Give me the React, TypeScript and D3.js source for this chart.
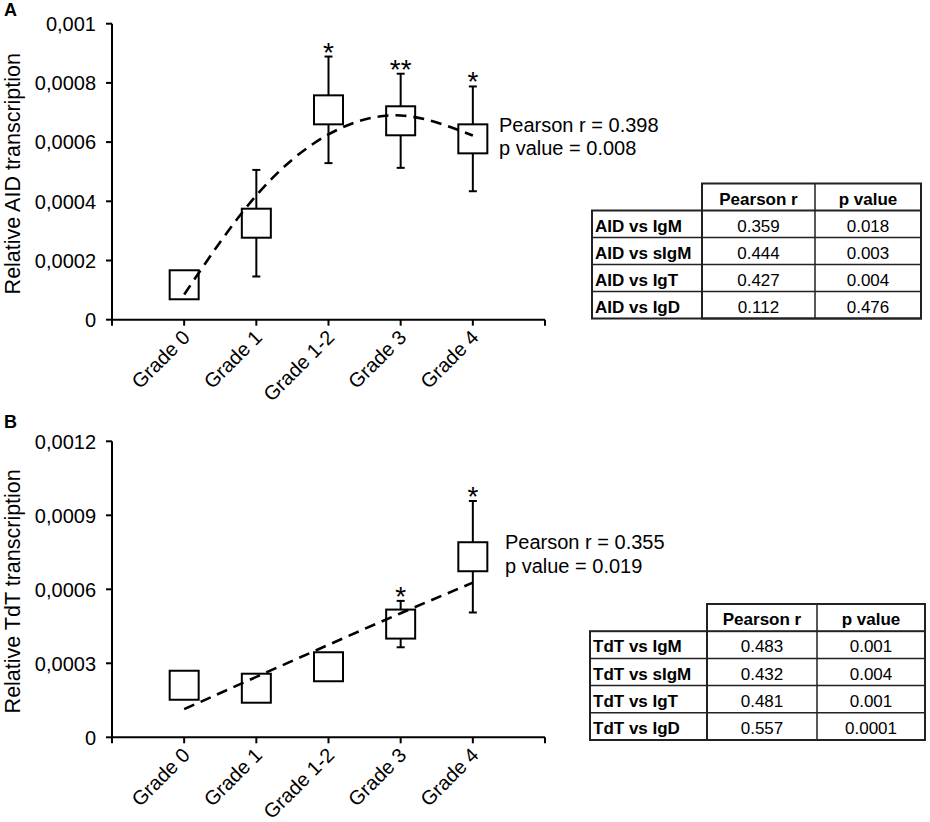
import * as d3 from "d3";

const FONT = "'Liberation Sans', Arial, Helvetica, sans-serif";

// x categories shared by both panels
const CATEGORIES = ["Grade 0", "Grade 1", "Grade 1-2", "Grade 3", "Grade 4"];
const TABLE_HEADERS = ["Pearson r", "p value"];

// Panel A: AID
const AID_MEAN = [0.000118, 0.000326, 0.000709, 0.000672, 0.000611];
const AID_ERR = [0, 0.00018, 0.00018, 0.000159, 0.000177];
const AID_TREND = [0.000085, 0.00042, 0.000626, 0.00069, 0.000622];
const AID_STARS = ["", "", "*", "**", "*"];
const AID_TICKS = [0, 0.0002, 0.0004, 0.0006, 0.0008, 0.001];
const AID_TICK_LABELS = ["0", "0,0002", "0,0004", "0,0006", "0,0008", "0,001"];
const AID_STATS = ["Pearson r = 0.398", "p value = 0.008"];
const AID_ROWS = ["AID vs IgM", "AID vs sIgM", "AID vs IgT", "AID vs IgD"];
const AID_R = ["0.359", "0.444", "0.427", "0.112"];
const AID_P = ["0.018", "0.003", "0.004", "0.476"];

// Panel B: TdT
const TDT_MEAN = [0.000211, 0.000199, 0.000286, 0.000459, 0.000732];
const TDT_ERR = [0, 0, 0, 0.000094, 0.000226];
const TDT_TREND = [0.000114, 0.000245, 0.000375, 0.000503, 0.000627];
const TDT_STARS = ["", "", "", "*", "*"];
const TDT_TICKS = [0, 0.0003, 0.0006, 0.0009, 0.0012];
const TDT_TICK_LABELS = ["0", "0,0003", "0,0006", "0,0009", "0,0012"];
const TDT_STATS = ["Pearson r = 0.355", "p value = 0.019"];
const TDT_ROWS = ["TdT vs IgM", "TdT vs sIgM", "TdT vs IgT", "TdT vs IgD"];
const TDT_R = ["0.483", "0.432", "0.481", "0.557"];
const TDT_P = ["0.001", "0.004", "0.001", "0.0001"];

const BOX = 29; // square marker size
const CAP = 8; // error bar cap width

type TableLayout = { left: number; c1: number; c2: number; right: number; top: number; rowH: number };

type PanelProps = {
  letter: string;
  letterY: number;
  yTitle: string;
  y0: number; // pixel of value 0
  y1: number; // pixel of max value
  ticks: number[];
  tickLabels: string[];
  means: number[];
  errs: number[];
  trend: number[];
  stars: string[];
  stats: string[];
  statsX: number;
  statsY: number;
  rows: string[];
  rs: string[];
  ps: string[];
  table: TableLayout;
};

const Panel = (p: PanelProps) => {
  const x = d3.scaleLinear().domain([0, CATEGORIES.length + 1]).range([112, 545]);
  const y = d3
    .scaleLinear()
    .domain([0, p.ticks[p.ticks.length - 1]])
    .range([p.y0, p.y1]);

  const line = d3
    .line<number>()
    .x((_, i) => x(i + 1))
    .y((d) => y(d))
    .curve(d3.curveNatural);

  const xTicks = d3.range(0, CATEGORIES.length + 2);
  const t = p.table;
  const nRows = p.rows.length;
  const bottom = t.top + t.rowH * (nRows + 1);

  return (
    <g>
      <text x={4} y={p.letterY} fontSize={18} fontWeight="bold">
        {p.letter}
      </text>

      {/* y axis */}
      <line x1={x(0)} x2={x(0)} y1={p.y1} y2={p.y0} stroke="#000" strokeWidth={2} />
      {p.ticks.map((v, i) => (
        <g key={v}>
          <line x1={x(0) - 6} x2={x(0)} y1={y(v)} y2={y(v)} stroke="#000" strokeWidth={2} />
          <text x={96} y={y(v)} dy="0.36em" textAnchor="end" fontSize={20}>
            {p.tickLabels[i]}
          </text>
        </g>
      ))}
      <text
        transform={`translate(20, ${(p.y0 + p.y1) / 2 + 2}) rotate(-90)`}
        textAnchor="middle"
        fontSize={21.5}
      >
        {p.yTitle}
      </text>

      {/* x axis */}
      <line x1={x(0)} x2={x(CATEGORIES.length + 1)} y1={p.y0} y2={p.y0} stroke="#000" strokeWidth={2} />
      {xTicks.map((i) => (
        <line key={i} x1={x(i)} x2={x(i)} y1={p.y0} y2={p.y0 + 6} stroke="#000" strokeWidth={2} />
      ))}
      {CATEGORIES.map((c, i) => (
        <text
          key={c}
          transform={`translate(${x(i + 1) + 7}, ${p.y0 + 19}) rotate(-45)`}
          textAnchor="end"
          fontSize={20}
        >
          {c}
        </text>
      ))}

      {/* error bars */}
      {p.means.map((m, i) =>
        p.errs[i] > 0 ? (
          <g key={i} stroke="#000" strokeWidth={2}>
            <line x1={x(i + 1)} x2={x(i + 1)} y1={y(m + p.errs[i])} y2={y(m - p.errs[i])} />
            <line x1={x(i + 1) - CAP / 2} x2={x(i + 1) + CAP / 2} y1={y(m + p.errs[i])} y2={y(m + p.errs[i])} />
            <line x1={x(i + 1) - CAP / 2} x2={x(i + 1) + CAP / 2} y1={y(m - p.errs[i])} y2={y(m - p.errs[i])} />
          </g>
        ) : null
      )}

      {/* square markers */}
      {p.means.map((m, i) => (
        <rect
          key={i}
          x={x(i + 1) - BOX / 2}
          y={y(m) - BOX / 2}
          width={BOX}
          height={BOX}
          fill="#fff"
          stroke="#000"
          strokeWidth={2}
        />
      ))}

      {/* significance */}
      {p.stars.map((s, i) =>
        s ? (
          <text
            key={i}
            x={x(i + 1)}
            y={y(p.means[i] + p.errs[i]) + 5}
            textAnchor="middle"
            fontSize={28}
          >
            {s}
          </text>
        ) : null
      )}

      {/* trend line */}
      <path
        d={line(p.trend) || undefined}
        fill="none"
        stroke="#000"
        strokeWidth={2.6}
        strokeDasharray="11,7"
      />

      {p.stats.map((s, i) => (
        <text key={s} x={p.statsX} y={p.statsY + i * 23.4} fontSize={20}>
          {s}
        </text>
      ))}

      {/* correlation table */}
      <g stroke="#222" fill="none">
        <rect x={t.c1} y={t.top} width={t.right - t.c1} height={bottom - t.top} strokeWidth={2} />
        <rect x={t.left} y={t.top + t.rowH} width={t.right - t.left} height={bottom - t.top - t.rowH} strokeWidth={2} />
        <line x1={t.c2} x2={t.c2} y1={t.top} y2={bottom} strokeWidth={1.5} />
        {d3.range(2, nRows + 1).map((r) => (
          <line key={r} x1={t.left} x2={t.right} y1={t.top + r * t.rowH} y2={t.top + r * t.rowH} strokeWidth={1.5} />
        ))}
      </g>
      {TABLE_HEADERS.map((h, j) => (
        <text
          key={h}
          x={j === 0 ? (t.c1 + t.c2) / 2 : (t.c2 + t.right) / 2}
          y={t.top + t.rowH / 2 + 7.5}
          textAnchor="middle"
          fontSize={17}
          fontWeight="bold"
        >
          {h}
        </text>
      ))}
      {p.rows.map((r, i) => {
        const cy = t.top + (i + 1.5) * t.rowH + 7.5;
        return (
          <g key={r} fontSize={17}>
            <text x={t.left + 3} y={cy} fontWeight="bold">
              {r}
            </text>
            <text x={(t.c1 + t.c2) / 2} y={cy} textAnchor="middle">
              {p.rs[i]}
            </text>
            <text x={(t.c2 + t.right) / 2} y={cy} textAnchor="middle">
              {p.ps[i]}
            </text>
          </g>
        );
      })}
    </g>
  );
};

export default function App() {
  return (
    <svg
      width={930}
      height={822}
      style={{ position: "absolute", left: 0, top: 0, background: "#fff" }}
      fontFamily={FONT}
    >
      <Panel
        letter="A"
        letterY={16}
        yTitle="Relative AID transcription"
        y0={319.7}
        y1={23.7}
        ticks={AID_TICKS}
        tickLabels={AID_TICK_LABELS}
        means={AID_MEAN}
        errs={AID_ERR}
        trend={AID_TREND}
        stars={AID_STARS}
        stats={AID_STATS}
        statsX={499}
        statsY={131.7}
        rows={AID_ROWS}
        rs={AID_R}
        ps={AID_P}
        table={{ left: 592, c1: 702, c2: 815, right: 921, top: 183.5, rowH: 27 }}
      />
      <Panel
        letter="B"
        letterY={428}
        yTitle="Relative TdT transcription"
        y0={737.3}
        y1={441.3}
        ticks={TDT_TICKS}
        tickLabels={TDT_TICK_LABELS}
        means={TDT_MEAN}
        errs={TDT_ERR}
        trend={TDT_TREND}
        stars={TDT_STARS}
        stats={TDT_STATS}
        statsX={505}
        statsY={549.3}
        rows={TDT_ROWS}
        rs={TDT_R}
        ps={TDT_P}
        table={{ left: 590, c1: 707, c2: 817, right: 925, top: 604, rowH: 27.2 }}
      />
    </svg>
  );
}
